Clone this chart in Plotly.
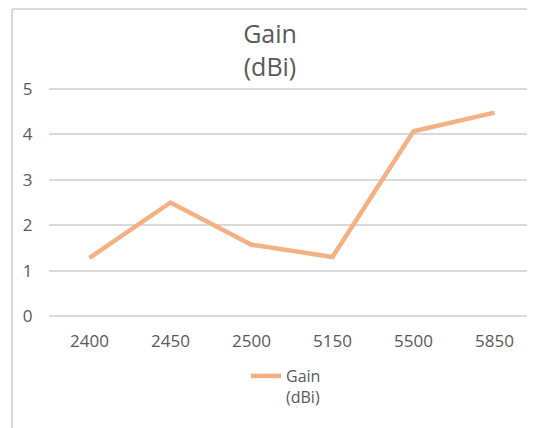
import plotly.graph_objects as go

categories = ["2400", "2450", "2500", "5150", "5500", "5850"]
gain_dbi = [1.28, 2.5, 1.57, 1.30, 4.07, 4.48]
series_name = "Gain<br>(dBi)"
title_text = "Gain<br>(dBi)"

# the page body adds an 8px offset; size the figure so it fills the window
OFF = 8
W, H = 535 - OFF, 428 - OFF
TEXT = "#595959"
GRID = "#d9d9d9"
LINE = "#F4B183"
FONT = "Open Sans"

fig = go.Figure()
fig.add_trace(go.Scatter(
    x=categories, y=gain_dbi, mode="lines", name=series_name,
    line=dict(color=LINE, width=4.5),
))

def px(x):
    return (x - OFF) / W

def py(y):
    return (H - (y - OFF)) / H

UNIT = (316 - 89) / 5.0
PAD = 0.1

fig.update_layout(
    template="none",
    width=W, height=H,
    margin=dict(l=0, r=0, t=0, b=0, pad=0),
    paper_bgcolor="white", plot_bgcolor="white",
    font=dict(family=FONT, color=TEXT, size=16),
    title=dict(text=title_text, x=px(270), xanchor="center",
               xref="container", yref="container",
               y=py(43), yanchor="top",
               font=dict(size=25, color=TEXT, family=FONT)),
    xaxis=dict(domain=[px(49), 1.0], type="category", automargin=False,
               range=[-0.5, 5.5],
               showgrid=False, zeroline=False, showline=False,
               ticks="outside", ticklen=10 - PAD * UNIT, tickcolor="rgba(0,0,0,0)",
               tickfont=dict(size=17, color=TEXT)),
    yaxis=dict(domain=[py(316 + PAD * UNIT), py(89 - PAD * UNIT)],
               range=[-PAD, 5 + PAD], dtick=1,
               tick0=0, automargin=False,
               showgrid=True, gridcolor=GRID, gridwidth=1.5,
               zeroline=False, showline=False,
               ticks="outside", ticklen=12, tickcolor="rgba(0,0,0,0)",
               tickfont=dict(size=17, color=TEXT)),
    showlegend=True,
    legend=dict(orientation="v", x=px(246), xanchor="left",
                y=py(359), yanchor="top", bgcolor="rgba(0,0,0,0)",
                valign="top",
                font=dict(size=16, color=TEXT)),
    shapes=[
        dict(type="line", xref="paper", yref="paper",
             x0=px(12), x1=1.0, y0=py(9), y1=py(9),
             line=dict(color=GRID, width=2)),
        dict(type="line", xref="paper", yref="paper",
             x0=px(12), x1=px(12), y0=py(9), y1=0,
             line=dict(color=GRID, width=2)),
    ],
)

fig.write_html("out.html")
